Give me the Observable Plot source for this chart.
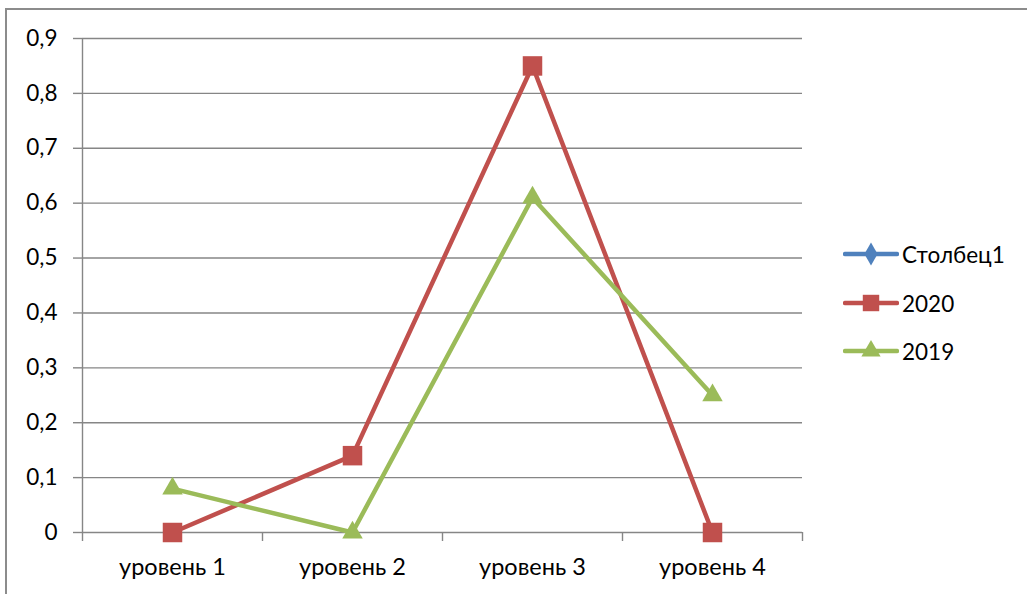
<!DOCTYPE html>
<html>
<head>
<meta charset="utf-8">
<script src="https://cdn.jsdelivr.net/npm/d3@7"></script>
<script src="https://cdn.jsdelivr.net/npm/@observablehq/plot@0.6"></script>
<style>
  html, body { margin: 0; padding: 0; background: #fff; }
  #wrap { position: relative; width: 1027px; height: 594px; overflow: hidden; background: #fff; font-family: Lato, "Open Sans", sans-serif; }
  #frame { position: absolute; left: 5px; top: 8px; width: 1200px; height: 800px; border: 2px solid #8c8c8c; box-sizing: border-box; }
  #chart { position: absolute; left: 0; top: 0; }
  #legend { position: absolute; left: 843px; top: 0; }
  .row { position: absolute; left: 0; display: flex; align-items: center; font-size: 22.5px; color: #000; white-space: nowrap; }
  .row svg { display: block; margin-right: 3px; }
</style>
</head>
<body>
<div id="wrap">
  <div id="frame"></div>
  <div id="chart"></div>
  <div id="legend"></div>
</div>
<script>
const categories = ["уровень 1", "уровень 2", "уровень 3", "уровень 4"];
const seriesNames = ["Столбец1", "2020", "2019"];
const colors = ["#4F81BD", "#C0504D", "#9BBB59"];
const symbols = ["diamond", "square", "triangle"];
const values2020 = [0, 0.14, 0.85, 0];
const values2019 = [0.08, 0, 0.61, 0.25];
const yTicks = [0, 0.1, 0.2, 0.3, 0.4, 0.5, 0.6, 0.7, 0.8, 0.9];

const rows = (vals, name) => vals.map((v, i) => ({idx: i + 1, cat: categories[i], value: v, series: name}));
const d2020 = rows(values2020, "2020");
const d2019 = rows(values2019, "2019");

const grid = "#868686";
const fs = 22.5;
const fmt = d => d === 0 ? "0" : d.toFixed(1).replace(".", ",");
const bounds = d3.range(categories.length + 1).map(i => i + 0.5);

const plot = Plot.plot({
  width: 1027,
  height: 594,
  marginLeft: 82,
  marginRight: 225,
  marginTop: 38,
  marginBottom: 62,
  x: {type: "linear", domain: [0.5, categories.length + 0.5]},
  y: {domain: [0, 0.9]},
  style: {fontFamily: "Lato, 'Open Sans', sans-serif", fontSize: fs + "px", color: "#000", background: "transparent", overflow: "visible"},
  marks: [
    Plot.ruleY(yTicks, {stroke: grid, strokeWidth: 1.4}),
    Plot.ruleX([0.5], {stroke: grid, strokeWidth: 1.4}),
    Plot.axisY({ticks: yTicks, tickSize: 9, tickPadding: 16, tickFormat: fmt, stroke: grid, strokeWidth: 1.4, fontSize: fs, fill: "#000", label: null}),
    Plot.axisX({ticks: bounds, tickSize: 9, tickFormat: () => "", stroke: grid, strokeWidth: 1.4, label: null}),
    Plot.axisX({ticks: d3.range(1, categories.length + 1), tickSize: 0, tickPadding: 26, tickFormat: i => categories[i - 1], fontSize: 23.5, fill: "#000", label: null}),
    Plot.line(d2020, {x: "idx", y: "value", stroke: colors[1], strokeWidth: 4.5}),
    Plot.dot(d2020, {x: "idx", y: "value", symbol: "square", r: 11, fill: colors[1], stroke: "none"}),
    Plot.line(d2019, {x: "idx", y: "value", stroke: colors[2], strokeWidth: 4.5}),
    Plot.dot(d2019, {x: "idx", y: "value", symbol: "triangle", r: 7.6, fill: colors[2], stroke: "none"})
  ]
});
document.getElementById("chart").appendChild(plot);

// Legend
const legend = d3.select("#legend");
const rowCenters = [254, 303, 351];
const legendSymbols = {diamond: d3.symbolDiamond, square: d3.symbolSquare, triangle: d3.symbolTriangle};
const legendSizes = {diamond: 150, square: 270, triangle: 160};
seriesNames.forEach((name, i) => {
  const row = legend.append("div").attr("class", "row").style("top", (rowCenters[i] - 14) + "px").style("height", "28px");
  const svg = row.append("svg").attr("width", 56).attr("height", 24);
  svg.append("line").attr("x1", 2).attr("x2", 54).attr("y1", 12).attr("y2", 12)
    .attr("stroke", colors[i]).attr("stroke-width", 4.5).attr("stroke-linecap", "round");
  svg.append("path").attr("transform", "translate(28,12)")
    .attr("d", d3.symbol(legendSymbols[symbols[i]], legendSizes[symbols[i]])())
    .attr("fill", colors[i]);
  row.append("span").text(name);
});
</script>
</body>
</html>
